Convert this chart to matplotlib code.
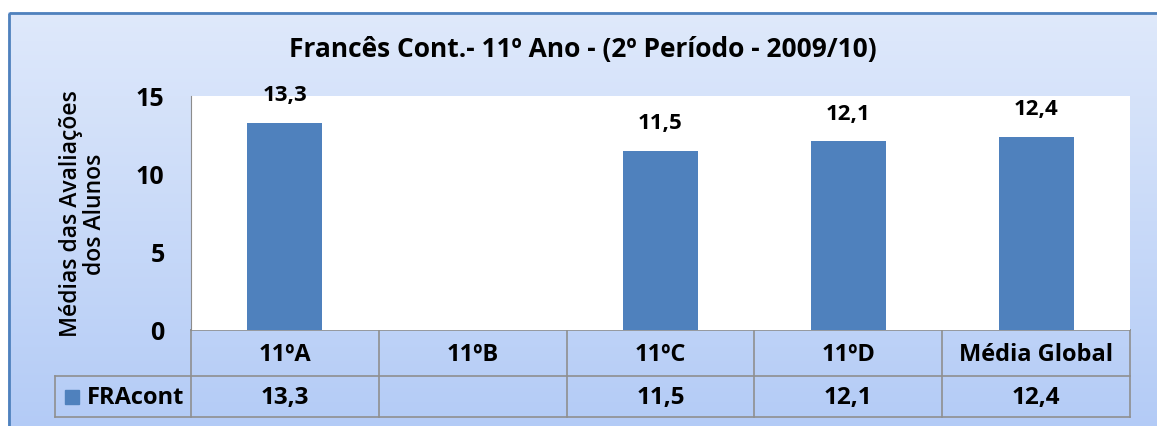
import numpy as np
import matplotlib
matplotlib.use('Agg')
from matplotlib import pyplot as plt
from matplotlib.patches import Rectangle

plt.rcParams['font.family'] = ['Open Sans', 'DejaVu Sans']

categories = ['11ºA', '11ºB', '11ºC', '11ºD', 'Média Global']
values = [13.3, np.nan, 11.5, 12.1, 12.4]
labels = ['13,3', '', '11,5', '12,1', '12,4']
series = 'FRAcont'
title = 'Francês Cont.- 11º Ano - (2º Período - 2009/10)'
ylabel = 'Médias das Avaliações\ndos Alunos'

W, H = 1157, 427
fig = plt.figure(figsize=(W / 100, H / 100), dpi=100)

# background with gradient, pixel coordinates
bg = fig.add_axes([0, 0, 1, 1])
bg.set_xlim(0, W)
bg.set_ylim(H, 0)
bg.axis('off')
grad = np.linspace(0, 1, 256)[:, None]
cmap = matplotlib.colors.LinearSegmentedColormap.from_list('g', ['#dfe9fb', '#b3cbf6'])
bg.imshow(grad, cmap=cmap, extent=[8, W + 5, H + 5, 13], aspect='auto', zorder=0)
bg.add_patch(Rectangle((8.5, 13.5), W, H, fill=False, ec='#4f81bd', lw=2, zorder=1))

# plot area
x0, x1, ytop, ybot = 191, 1130, 97, 331
ax = fig.add_axes([x0 / W, 1 - ybot / H, (x1 - x0) / W, (ybot - ytop) / H])
ax.set_facecolor('white')
x = np.arange(len(categories))
ax.bar(x, values, width=0.4, color='#4f81bd', zorder=2)
for xi, v, lab in zip(x, values, labels):
    if lab:
        ax.text(xi, v + 1.1, lab, ha='center', va='bottom', fontsize=16, fontweight='bold')
ax.set_xlim(-0.5, len(categories) - 0.5)
ax.set_ylim(0, 15)
ax.set_yticks([0, 5, 10, 15])
ax.set_xticks([])
ax.tick_params(axis='y', length=0, pad=19, labelsize=18)
for t in ax.get_yticklabels():
    t.set_fontweight('bold')
for s in ['top', 'right', 'bottom']:
    ax.spines[s].set_visible(False)
ax.spines['left'].set_color('#8c8c8c')

# data table
cw = (x1 - x0) / len(categories)
r1, r2, r3 = 331, 377, 418
lx = 55
grid = '#8f8f8f'
bg.plot([x0, x1], [r1, r1], color=grid, lw=1.2, zorder=3)
bg.plot([lx, x1], [r2, r2], color=grid, lw=1.2, zorder=3)
bg.plot([lx, x1], [r3, r3], color=grid, lw=1.2, zorder=3)
bg.plot([lx, lx], [r2, r3], color=grid, lw=1.2, zorder=3)
for i in range(len(categories) + 1):
    bg.plot([x0 + i * cw] * 2, [r1, r3], color=grid, lw=1.2, zorder=3)
for i, (c, lab) in enumerate(zip(categories, labels)):
    cx = x0 + (i + 0.5) * cw
    bg.text(cx, (r1 + r2) / 2 + 1, c, ha='center', va='center', fontsize=17, fontweight='bold', zorder=4)
    bg.text(cx, (r2 + r3) / 2 + 1, lab, ha='center', va='center', fontsize=17.5, fontweight='bold', zorder=4)
bg.add_patch(Rectangle((65, 391), 14, 14, color='#4f81bd', zorder=4))
bg.text(87, (r2 + r3) / 2 + 1, series, ha='left', va='center', fontsize=17, fontweight='bold', zorder=4)

bg.text(583, 50, title, ha='center', va='center', fontsize=19, fontweight='bold', zorder=4)
bg.text(83, 214, ylabel, ha='center', va='center', rotation=90, fontsize=16.5,
        fontweight='semibold', linespacing=1.0, zorder=4)

fig.savefig('out.png', dpi=100)
